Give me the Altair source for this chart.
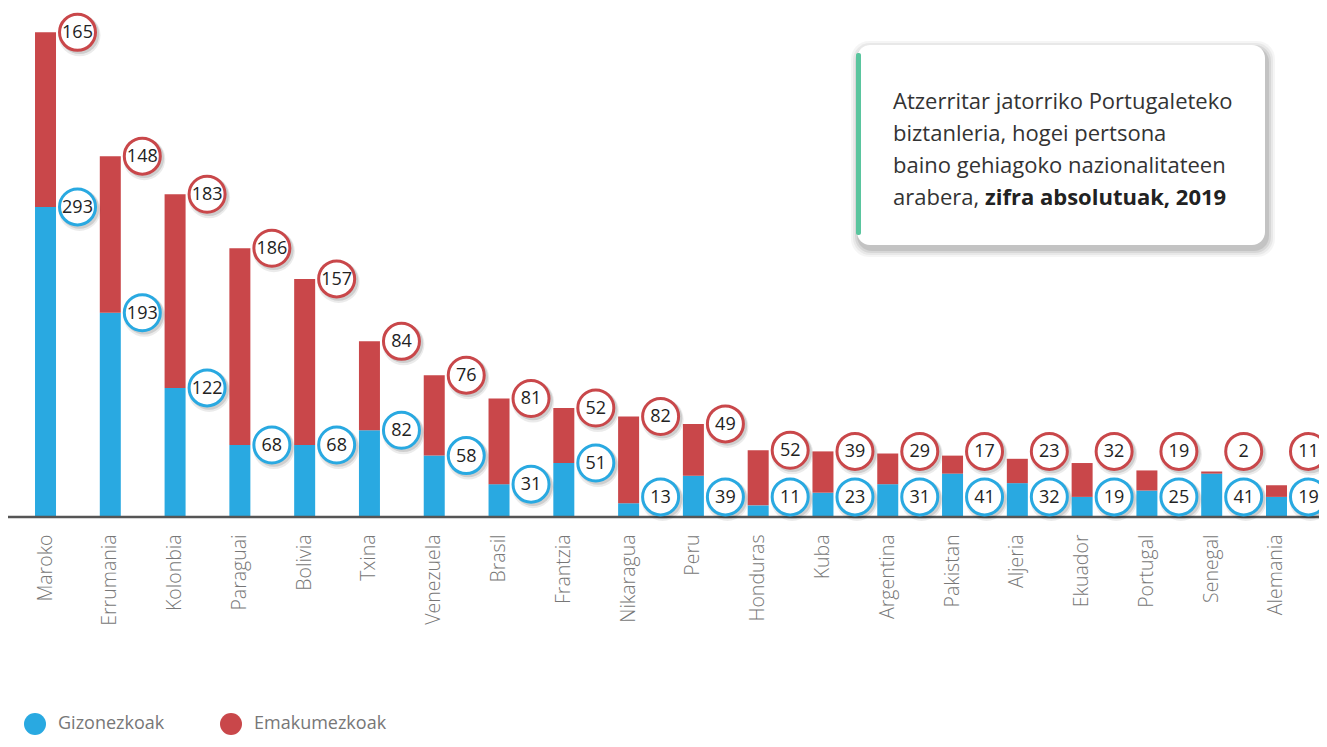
import altair as alt
import pandas as pd

countries = ["Maroko", "Errumania", "Kolonbia", "Paraguai", "Bolivia", "Txina",
             "Venezuela", "Brasil", "Frantzia", "Nikaragua", "Peru", "Honduras",
             "Kuba", "Argentina", "Pakistan", "Aljeria", "Ekuador", "Portugal",
             "Senegal", "Alemania"]
men = [293, 193, 122, 68, 68, 82, 58, 31, 51, 13, 39, 11, 23, 31, 41, 32, 19, 25, 41, 19]
women = [165, 148, 183, 186, 157, 84, 76, 81, 52, 82, 49, 52, 39, 29, 17, 23, 32, 19, 2, 11]
series = ["Gizonezkoak", "Emakumezkoak"]
title_lines = ["Atzerritar jatorriko Portugaleteko",
               "biztanleria, hogei pertsona",
               "baino gehiagoko nazionalitateen",
               "arabera,"]
title_bold = "zifra absolutuak, 2019"

BLUE = "#29a9e1"
RED = "#c9474a"
GREEN = "#5ac59e"
FONT = "Open Sans"

df = pd.DataFrame({"country": countries, "men": men, "women": women})

base = alt.Chart(df).transform_calculate(
    total="datum.men + datum.women",
    red_pos="max(datum.men + datum.women, 62)",
    blue_pos="(datum.men + datum.women) < 90 ? 19 : max(datum.men, 19)",
)

x_enc = alt.X("country:N", sort=countries,
              scale=alt.Scale(paddingInner=0, paddingOuter=0.079),
              axis=alt.Axis(title=None, labelAngle=-90, labelFontSize=19.5,
                            labelColor="#777777", labelFont=FONT,
                            labelFontWeight=300, ticks=False, domain=False,
                            labelPadding=17, grid=False))
y_scale = alt.Scale(domain=[0, 481], nice=False, zero=True)

color_scale = alt.Scale(domain=series, range=[BLUE, RED])
legend = alt.Legend(orient="none", legendX=16, legendY=705, direction="horizontal",
                    title=None, symbolType="circle", symbolSize=484,
                    symbolStrokeWidth=0, labelFontSize=18, labelColor="#777777",
                    labelFont=FONT, labelOffset=12, columnPadding=55)

men_bar = base.transform_calculate(series="'%s'" % series[0]).mark_bar(width=21).encode(
    x=x_enc,
    y=alt.Y("men:Q", scale=y_scale, axis=None),
    color=alt.Color("series:N", scale=color_scale, legend=legend),
)
women_bar = base.transform_calculate(series="'%s'" % series[1]).mark_bar(width=21).encode(
    x=x_enc,
    y=alt.Y("men:Q", scale=y_scale, axis=None),
    y2="total:Q",
    color=alt.Color("series:N", scale=color_scale, legend=legend),
)


def bubble(pos_field, value_field, stroke):
    shadow1 = base.mark_point(shape="circle", filled=True, color="#000000",
                              opacity=0.08, size=1764, xOffset=34, yOffset=3).encode(
        x=x_enc, y=alt.Y(f"{pos_field}:Q", scale=y_scale, axis=None))
    shadow2 = base.mark_point(shape="circle", filled=True, color="#000000",
                              opacity=0.12, size=1560, xOffset=34, yOffset=2).encode(
        x=x_enc, y=alt.Y(f"{pos_field}:Q", scale=y_scale, axis=None))
    circ = base.mark_point(shape="circle", filled=False, fill="white", fillOpacity=1,
                           stroke=stroke, strokeWidth=3, size=1296, opacity=1,
                           xOffset=32).encode(
        x=x_enc, y=alt.Y(f"{pos_field}:Q", scale=y_scale, axis=None))
    txt = base.mark_text(font=FONT, fontSize=18, color="#222222", xOffset=32,
                         baseline="middle", dy=1).encode(
        x=x_enc, y=alt.Y(f"{pos_field}:Q", scale=y_scale, axis=None),
        text=alt.Text(f"{value_field}:Q"))
    return [shadow1, shadow2, circ, txt]


one = alt.Chart(pd.DataFrame({"a": [0]}))

baseline = one.mark_rule(color="#555555", strokeWidth=2.5).encode(
    x=alt.value(0), x2=alt.value(1311), y=alt.Y(datum=0, scale=y_scale, axis=None))

# title box
box_layers = []
for i, op in enumerate([0.04, 0.05, 0.07, 0.09]):
    g = 8 - 2 * i
    box_layers.append(one.mark_rect(color="#000000", opacity=op, cornerRadius=14 + g / 2).encode(
        x=alt.value(849 - g + 2), x2=alt.value(1257 + g + 2),
        y=alt.value(37 - g + 4), y2=alt.value(237 + g + 4)))
box_layers.append(one.mark_rect(color="white", cornerRadius=13).encode(
    x=alt.value(849), x2=alt.value(1257), y=alt.value(37), y2=alt.value(237)))
box_layers.append(one.mark_rect(color=GREEN, cornerRadius=2).encode(
    x=alt.value(848), x2=alt.value(853), y=alt.value(45), y2=alt.value(227)))
for i, line in enumerate(title_lines):
    box_layers.append(one.mark_text(font=FONT, fontSize=22, color="#333333",
                                    align="left", baseline="alphabetic").encode(
        x=alt.value(885), y=alt.value(101 + 32 * i), text=alt.value(line)))
box_layers.append(one.mark_text(font=FONT, fontSize=22, color="#222222", fontWeight="bold",
                                align="left", baseline="alphabetic").encode(
    x=alt.value(977), y=alt.value(197), text=alt.value(title_bold)))

chart = alt.layer(
    men_bar, women_bar, baseline,
    *bubble("blue_pos", "men", BLUE),
    *bubble("red_pos", "women", RED),
    *box_layers,
).properties(
    width=1306, height=509,
    autosize=alt.AutoSizeParams(type="none"),
    padding={"left": 0, "top": 0, "right": 5, "bottom": 222},
).configure_view(stroke=None)

chart.save("out.html", embed_options={"renderer": "svg", "actions": False})
